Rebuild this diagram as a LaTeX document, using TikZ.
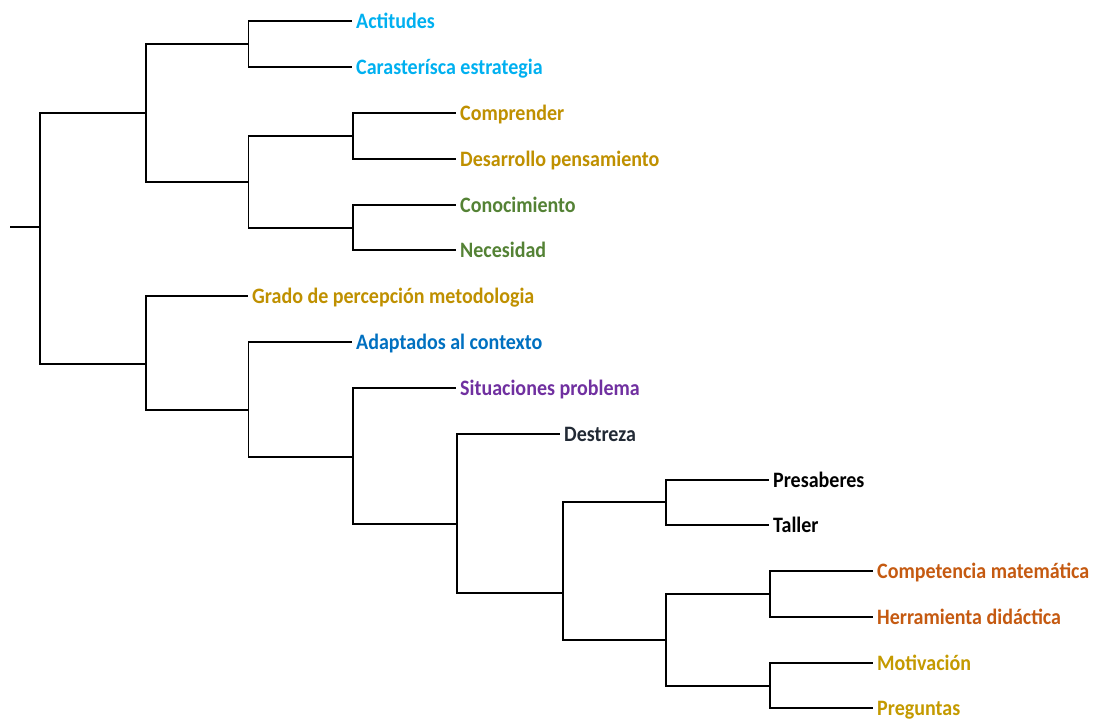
\documentclass[tikz,border=0pt]{standalone}
\usepackage{graphicx}
\usepackage{fontspec}
\setmainfont{Carlito}
\definecolor{cyanlbl}{HTML}{00B0F0}
\definecolor{goldlbl}{HTML}{BF9000}
\definecolor{yellowlbl}{HTML}{C49A00}
\definecolor{greenlbl}{HTML}{548235}
\definecolor{bluelbl}{HTML}{0070C0}
\definecolor{purplelbl}{HTML}{7030A0}
\definecolor{slatelbl}{HTML}{222A35}
\definecolor{orangelbl}{HTML}{C55A11}
\newcommand{\leaftext}[1]{\scalebox{0.91}[1]{#1}}
\tikzset{
  leaf/.style={anchor=west, inner xsep=4pt, inner ysep=0pt,
    text height=14.5pt, text depth=0pt,
    font=\fontsize{22}{22}\selectfont\bfseries},
  branch/.style={line width=1.9pt, black}
}
\begin{document}
\begin{tikzpicture}[x=1pt,y=-1pt]
\useasboundingbox (0,0) rectangle (1094,721);

% leaves
\node[leaf,text=cyanlbl]   (act)  at (352,21)  {\leaftext{Actitudes}};
\node[leaf,text=cyanlbl]   (car)  at (352,67)  {\leaftext{Carasterísca estrategia}};
\node[leaf,text=goldlbl]   (com)  at (456,113) {\leaftext{Comprender}};
\node[leaf,text=goldlbl]   (des)  at (456,159) {\leaftext{Desarrollo pensamiento}};
\node[leaf,text=greenlbl]  (con)  at (456,205) {\leaftext{Conocimiento}};
\node[leaf,text=greenlbl]  (nec)  at (456,250) {\leaftext{Necesidad}};
\node[leaf,text=goldlbl]   (gra)  at (248,296) {\leaftext{Grado de percepción metodologia}};
\node[leaf,text=bluelbl]   (ada)  at (352,342) {\leaftext{Adaptados al contexto}};
\node[leaf,text=purplelbl] (sit)  at (456,388) {\leaftext{Situaciones problema}};
\node[leaf,text=slatelbl]  (dst)  at (560,434) {\leaftext{Destreza}};
\node[leaf,text=black]     (pre)  at (769,480) {\leaftext{Presaberes}};
\node[leaf,text=black]     (tal)  at (769,525) {\leaftext{Taller}};
\node[leaf,text=orangelbl] (cmp)  at (873,571) {\leaftext{Competencia matemática}};
\node[leaf,text=orangelbl] (her)  at (873,617) {\leaftext{Herramienta didáctica}};
\node[leaf,text=yellowlbl] (mot)  at (873,663) {\leaftext{Motivación}};
\node[leaf,text=yellowlbl] (prg)  at (873,708) {\leaftext{Preguntas}};

% internal joins
\coordinate (stub) at (10,227);
\coordinate (root) at (40,227);
\coordinate (e) at (146,113);
\coordinate (f) at (146,364);
\coordinate (a) at (248.5,44);
\coordinate (d) at (248.5,182);
\coordinate (b) at (353,136);
\coordinate (c) at (353,228);
\coordinate (n) at (248.5,410);
\coordinate (m3) at (353,457);
\coordinate (m4) at (457,524);
\coordinate (l) at (563,593);
\coordinate (h) at (666,502);
\coordinate (k) at (666,640);
\coordinate (i) at (770,594);
\coordinate (j) at (770,686);

% tree
\draw[branch] (stub) -- (root);
\draw[branch] (root) |- (e);
\draw[branch] (root) |- (f);
\draw[branch] (e) |- (a);
\draw[branch] (e) |- (d);
\draw[branch] (a) |- (act);
\draw[branch] (a) |- (car);
\draw[branch] (d) |- (b);
\draw[branch] (d) |- (c);
\draw[branch] (b) |- (com);
\draw[branch] (b) |- (des);
\draw[branch] (c) |- (con);
\draw[branch] (c) |- (nec);
\draw[branch] (f) |- (gra);
\draw[branch] (f) |- (n);
\draw[branch] (n) |- (ada);
\draw[branch] (n) |- (m3);
\draw[branch] (m3) |- (sit);
\draw[branch] (m3) |- (m4);
\draw[branch] (m4) |- (dst);
\draw[branch] (m4) |- (l);
\draw[branch] (l) |- (h);
\draw[branch] (l) |- (k);
\draw[branch] (h) |- (pre);
\draw[branch] (h) |- (tal);
\draw[branch] (k) |- (i);
\draw[branch] (k) |- (j);
\draw[branch] (i) |- (cmp);
\draw[branch] (i) |- (her);
\draw[branch] (j) |- (mot);
\draw[branch] (j) |- (prg);
\end{tikzpicture}
\end{document}
